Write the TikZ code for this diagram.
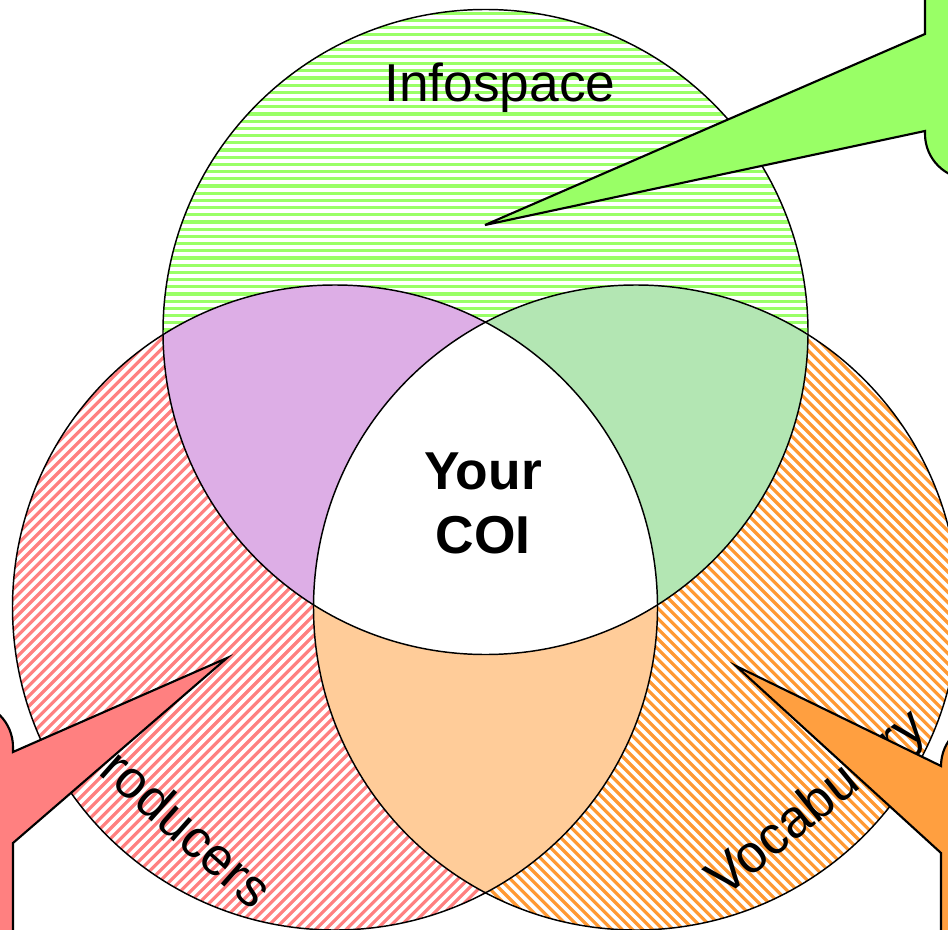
\documentclass[tikz,border=0pt]{standalone}
\usepackage{fontspec}
\setmainfont{Liberation Sans}
\definecolor{infogreen}{HTML}{99FF66}
\definecolor{prodred}{HTML}{FF8080}
\definecolor{vocorange}{HTML}{FF9F40}
\definecolor{lineorange}{HTML}{FF9933}
\definecolor{ovpurple}{HTML}{DDAEE6}
\definecolor{ovgreen}{HTML}{B3E6B3}
\definecolor{ovpeach}{HTML}{FFCC99}
\tikzset{
  circleline/.style={draw=black, line width=1.1pt},
  calloutbox/.style={draw=black, line width=1.6pt, line join=miter},
  bigtext/.style={font=\fontsize{40}{48}\selectfont, inner sep=0pt},
  hatch/.style={line width=2.4pt},
}
\begin{document}
\begin{tikzpicture}[x=0.75pt,y=-0.75pt]
\useasboundingbox (0,0) rectangle (948,930);
\clip (0,0) rectangle (948,930);
\fill[white] (0,0) rectangle (948,930);
\coordinate (T) at (485.5,332);
\coordinate (L) at (335,607.5);
\coordinate (R) at (636,607.5);
\def\rr{322.5}
% hatched circles
\begin{scope}
  \clip (T) circle[radius=\rr];
  \foreach \y in {6,13.2,...,670} \draw[hatch, infogreen] (100,\y) -- (900,\y);
\end{scope}
\begin{scope}
  \clip (L) circle[radius=\rr];
  \foreach \c in {480,490.2,...,1410} \draw[hatch, prodred] (\c,0) -- ({\c-1000},1000);
\end{scope}
\begin{scope}
  \clip (R) circle[radius=\rr];
  \foreach \c in {-440,-429.8,...,500} \draw[hatch, lineorange] (\c,0) -- ({\c+1000},1000);
\end{scope}
% overlaps
\begin{scope}
  \clip (T) circle[radius=\rr];
  \fill[ovpurple] (L) circle[radius=\rr];
  \fill[ovgreen] (R) circle[radius=\rr];
\end{scope}
\begin{scope}
  \clip (L) circle[radius=\rr];
  \fill[ovpeach] (R) circle[radius=\rr];
  \clip (R) circle[radius=\rr];
  \fill[white] (T) circle[radius=\rr];
\end{scope}
% outlines
\draw[circleline] (T) circle[radius=\rr];
\draw[circleline] (L) circle[radius=\rr];
\draw[circleline] (R) circle[radius=\rr];
% texts
\node[bigtext, anchor=base] (info) at (500,102) {Infospace};
\node[bigtext, font=\fontsize{40}{48}\selectfont\bfseries, align=center] (coi) at (483,503) {Your\\COI};
\node[bigtext, rotate=-41.6] (prod) at (174,816) {Producers};
\node[bigtext, rotate=39] (voc) at (818,805) {Vocabulary};
% callouts
\coordinate (gtip) at (485,225);
\coordinate (rtip) at (227,658);
\coordinate (otip) at (736,666);
\filldraw[calloutbox, fill=infogreen] (925,-30) -- (925,34) -- (gtip) -- (925,131) -- (925,134)
  arc[start angle=180, end angle=90, radius=45] -- (990,179) -- (990,-30) -- cycle;
\filldraw[calloutbox, fill=prodred] (-40,702) -- (-32,702)
  arc[start angle=270, end angle=360, radius=45] -- (13,752) -- (rtip) -- (13,843) -- (13,960) -- (-40,960) -- cycle;
\filldraw[calloutbox, fill=vocorange] (990,721) -- (986,721)
  arc[start angle=270, end angle=180, radius=45] -- (otip) -- (941,853) -- (941,960) -- (990,960) -- cycle;
\end{tikzpicture}
\end{document}
